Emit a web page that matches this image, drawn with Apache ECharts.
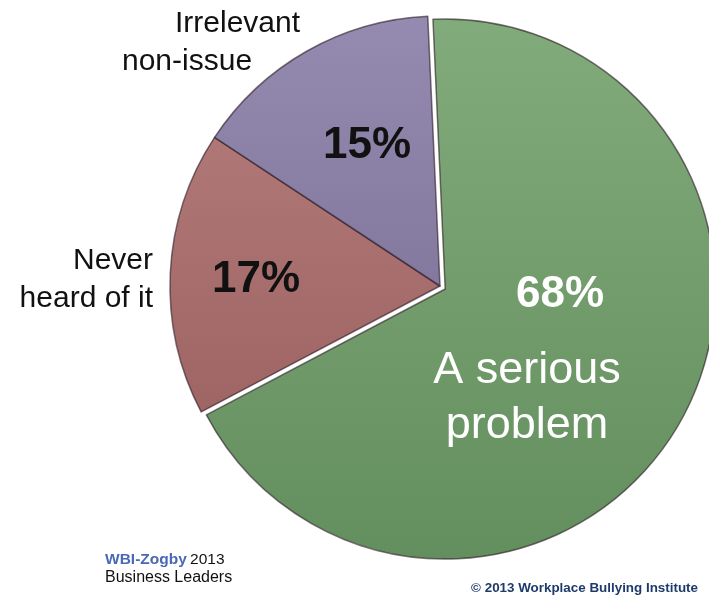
<!DOCTYPE html>
<html>
<head>
<meta charset="utf-8">
<title>Workplace bullying – business leaders</title>
<script src="https://cdn.jsdelivr.net/npm/echarts@6/dist/echarts.min.js"></script>
<style>
  html, body { margin: 0; padding: 0; background: #ffffff; }
  #chart { width: 709px; height: 596px; }
</style>
</head>
<body>
<div id="chart"></div>
<script>
// Survey answers (share of respondents, %)
const categories = ['A serious\nproblem', 'Never\nheard of it', 'Irrelevant\nnon-issue'];
const shares = [68, 17, 15];

// Fill colours per answer: [top, bottom] of a soft vertical shading
const sliceColors = [
  ['#82ab7b', '#638e5d'],
  ['#b07777', '#9f6565'],
  ['#958aaf', '#83789e']
];
const percentColors = ['#ffffff', '#111111', '#111111'];

// Where the percentage labels sit
const percentAnchors = [[560, 295], [256, 280], [367, 146]];

// Category caption lines: [x, middle-y, align, size, colour]
const captionLines = [
  [[527, 371, 'center', 45, '#ffffff'], [527, 426, 'center', 45, '#ffffff']],
  [[153, 261, 'right', 30, '#111111'], [153, 299, 'right', 30, '#111111']],
  [[175, 24, 'left', 30, '#111111'], [122, 62, 'left', 30, '#111111']]
];

const FONT = '"Liberation Sans", Arial, Helvetica, sans-serif';

// Pie geometry
const PIE_CENTER = [440, 286];
const PIE_RADIUS = 270;
const START_ANGLE = 92.6;
const PULL_OUT = 6;          // the leading slice is pulled away from the rest
const PULLED = 0;

// Direction of the pulled slice's bisector, from the shares themselves
const total = shares.reduce((s, v) => s + v, 0);
const before = shares.slice(0, PULLED).reduce((s, v) => s + v, 0);
const midDeg = START_ANGLE - (before + shares[PULLED] / 2) / total * 360;
const midRad = midDeg * Math.PI / 180;
const pulledCenter = [
  PIE_CENTER[0] + PULL_OUT * Math.cos(midRad),
  PIE_CENTER[1] - PULL_OUT * Math.sin(midRad)
];

function sliceData(visible) {
  return shares.map((v, i) => {
    const on = visible(i);
    return {
      value: v,
      name: categories[i].replace('\n', ' '),
      itemStyle: on ? {
        color: {
          type: 'linear', x: 0, y: 0, x2: 0, y2: 1,
          colorStops: [
            { offset: 0, color: sliceColors[i][0] },
            { offset: 1, color: sliceColors[i][1] }
          ]
        }
      } : { color: 'rgba(0,0,0,0)', borderWidth: 0 },
      label: { show: on, color: percentColors[i] }
    };
  });
}

function pieLayer(center, visible) {
  return {
    type: 'pie',
    center: center,
    radius: [0, PIE_RADIUS],
    startAngle: START_ANGLE,
    clockwise: true,
    silent: true,
    data: sliceData(visible),
    itemStyle: {
      borderColor: 'rgba(40, 24, 34, 0.6)',
      borderWidth: 1.5
    },
    label: {
      position: 'inside',
      formatter: '{c}%',
      fontFamily: FONT,
      fontSize: 44,
      fontWeight: 'bold'
    },
    labelLine: { show: false },
    labelLayout: function (params) {
      const a = percentAnchors[params.dataIndex];
      return { x: a[0], y: a[1], align: 'center', verticalAlign: 'middle' };
    }
  };
}

const graphics = [];
categories.forEach((cat, i) => {
  cat.split('\n').forEach((line, j) => {
    const [x, y, align, size, color] = captionLines[i][j];
    graphics.push({
      type: 'text', z: 100, silent: true,
      style: {
        x: x, y: y, text: line, fill: color,
        font: `${size}px ${FONT}`,
        textAlign: align, textVerticalAlign: 'middle'
      }
    });
  });
});

// Source notes
graphics.push({
  type: 'text', z: 100, silent: true,
  style: {
    x: 105, y: 560, textVerticalAlign: 'middle',
    text: '{a|WBI-Zogby} {b|2013}',
    rich: {
      a: { fontFamily: FONT, fontSize: 15.5, fontWeight: 'bold', fill: '#4a68b5' },
      b: { fontFamily: FONT, fontSize: 15.5, fill: '#111111' }
    }
  }
});
graphics.push({
  type: 'text', z: 100, silent: true,
  style: {
    x: 105, y: 578, textVerticalAlign: 'middle',
    text: 'Business Leaders', fill: '#111111', font: `16px ${FONT}`
  }
});
graphics.push({
  type: 'text', z: 100, silent: true,
  style: {
    x: 698, y: 588, textAlign: 'right', textVerticalAlign: 'middle',
    text: '\u00A9 2013 Workplace Bullying Institute', fill: '#1e3b6b',
    font: `bold 13.4px ${FONT}`
  }
});

const chart = echarts.init(document.getElementById('chart'), null, { renderer: 'canvas' });
chart.setOption({
  backgroundColor: '#ffffff',
  animation: false,
  series: [
    pieLayer(PIE_CENTER, i => i !== PULLED),
    pieLayer(pulledCenter, i => i === PULLED)
  ],
  graphic: graphics
});
</script>
</body>
</html>
